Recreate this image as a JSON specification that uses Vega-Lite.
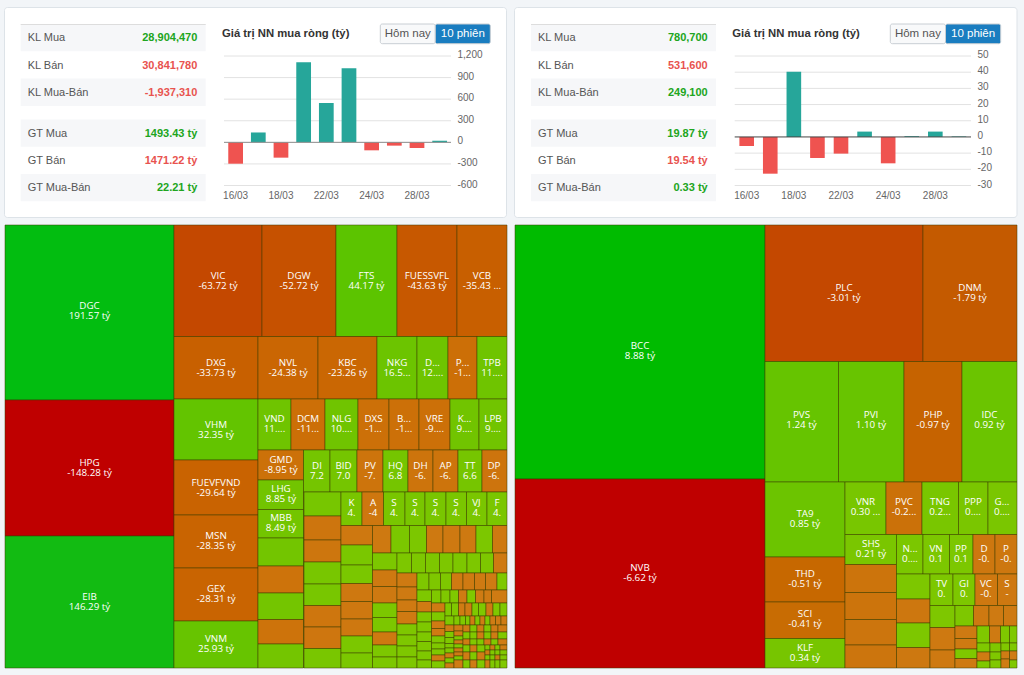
{"$schema":"https://vega.github.io/schema/vega-lite/v6.json","width":1024,"height":675,"autosize":{"type":"fit","contains":"padding"},"padding":0,"background":"#f2f5f8",
"config":{"view":{"stroke":null},"axis":{"labelColor":"#666","labelFontSize":10,"labelFont":"Liberation Sans"},"text":{"font":"Liberation Sans"}},
"resolve":{"scale":{"x":"independent","y":"independent","color":"independent"}},
"datasets":{
"one":[{"k":1}],
"buttons":[{"btn":"Hôm nay"},{"btn":"10 phiên"}],
"statsL":[{"metric":"KL Mua","value":"28,904,470","dir":"pos","shade":true},{"metric":"KL Bán","value":"30,841,780","dir":"neg","shade":false},{"metric":"KL Mua-Bán","value":"-1,937,310","dir":"neg","shade":true},{"metric":"GT Mua","value":"1493.43 tỷ","dir":"pos","shade":true},{"metric":"GT Bán","value":"1471.22 tỷ","dir":"neg","shade":false},{"metric":"GT Mua-Bán","value":"22.21 tỷ","dir":"pos","shade":true}],
"statsR":[{"metric":"KL Mua","value":"780,700","dir":"pos","shade":true},{"metric":"KL Bán","value":"531,600","dir":"neg","shade":false},{"metric":"KL Mua-Bán","value":"249,100","dir":"pos","shade":true},{"metric":"GT Mua","value":"19.87 tỷ","dir":"pos","shade":true},{"metric":"GT Bán","value":"19.54 tỷ","dir":"neg","shade":false},{"metric":"GT Mua-Bán","value":"0.33 tỷ","dir":"pos","shade":true}],
"barsL":[{"date":"16/03","net":-297,"dir":"neg"},{"date":"17/03","net":137,"dir":"pos"},{"date":"18/03","net":-213,"dir":"neg"},{"date":"21/03","net":1112,"dir":"pos"},{"date":"22/03","net":547,"dir":"pos"},{"date":"23/03","net":1029,"dir":"pos"},{"date":"24/03","net":-111,"dir":"neg"},{"date":"25/03","net":-46,"dir":"neg"},{"date":"28/03","net":-79,"dir":"neg"},{"date":"29/03","net":22.21,"dir":"pos"}],
"barsR":[{"date":"16/03","net":-5.6,"dir":"neg"},{"date":"17/03","net":-22.7,"dir":"neg"},{"date":"18/03","net":40.2,"dir":"pos"},{"date":"21/03","net":-13,"dir":"neg"},{"date":"22/03","net":-10.3,"dir":"neg"},{"date":"23/03","net":3.3,"dir":"pos"},{"date":"24/03","net":-16.3,"dir":"neg"},{"date":"25/03","net":0.5,"dir":"pos"},{"date":"28/03","net":3.3,"dir":"pos"},{"date":"29/03","net":0.33,"dir":"pos"}],
"gridL":[{"t":1200},{"t":900},{"t":600},{"t":300},{"t":-300},{"t":-600}],
"gridR":[{"t":50},{"t":40},{"t":30},{"t":20},{"t":10},{"t":-10},{"t":-20},{"t":-30}],
"cellsL":[
{"txt":"DGC\n191.57 tỷ","v":191.57,"x0":5,"x1":174,"y0":225,"y1":400,"cx":89.5,"cy":311},
{"txt":"HPG\n-148.28 tỷ","v":-148.28,"x0":5,"x1":174,"y0":400,"y1":536,"cx":89.5,"cy":468},
{"txt":"EIB\n146.29 tỷ","v":146.29,"x0":5,"x1":174,"y0":536,"y1":668,"cx":89.5,"cy":602},
{"txt":"VIC\n-63.72 tỷ","v":-63.72,"x0":174,"x1":262,"y0":225,"y1":336.5,"cx":218,"cy":280.5},
{"txt":"DGW\n-52.72 tỷ","v":-52.72,"x0":262,"x1":336,"y0":225,"y1":336.5,"cx":299,"cy":280.5},
{"txt":"FTS\n44.17 tỷ","v":44.17,"x0":336,"x1":397,"y0":225,"y1":336.5,"cx":366.5,"cy":280.5},
{"txt":"FUESSVFL\n-43.63 tỷ","v":-43.63,"x0":397,"x1":457,"y0":225,"y1":336.5,"cx":427,"cy":280.5},
{"txt":"VCB\n-35.43 ...","v":-35.43,"x0":457,"x1":507,"y0":225,"y1":336.5,"cx":482,"cy":280.5},
{"txt":"DXG\n-33.73 tỷ","v":-33.73,"x0":174,"x1":258,"y0":336.5,"y1":399,"cx":216,"cy":367.5},
{"txt":"NVL\n-24.38 tỷ","v":-24.38,"x0":258,"x1":318,"y0":336.5,"y1":399,"cx":288,"cy":367.5},
{"txt":"KBC\n-23.26 tỷ","v":-23.26,"x0":318,"x1":377,"y0":336.5,"y1":399,"cx":347.5,"cy":367.5},
{"txt":"NKG\n16.5...","v":16.5,"x0":377,"x1":417,"y0":336.5,"y1":399,"cx":397,"cy":367.5},
{"txt":"D...\n12....","v":12.8,"x0":417,"x1":448,"y0":336.5,"y1":399,"cx":432.5,"cy":367.5},
{"txt":"P...\n-1...","v":-12,"x0":448,"x1":477,"y0":336.5,"y1":399,"cx":462.5,"cy":367.5},
{"txt":"TPB\n11....","v":11.8,"x0":477,"x1":507,"y0":336.5,"y1":399,"cx":492,"cy":367.5},
{"txt":"VHM\n32.35 tỷ","v":32.35,"x0":174,"x1":258,"y0":399,"y1":460,"cx":216,"cy":429.5},
{"txt":"FUEVFVND\n-29.64 tỷ","v":-29.64,"x0":174,"x1":258,"y0":460,"y1":515,"cx":216,"cy":487.5},
{"txt":"MSN\n-28.35 tỷ","v":-28.35,"x0":174,"x1":258,"y0":515,"y1":568,"cx":216,"cy":541},
{"txt":"GEX\n-28.31 tỷ","v":-28.31,"x0":174,"x1":258,"y0":568,"y1":621,"cx":216,"cy":594},
{"txt":"VNM\n25.93 tỷ","v":25.93,"x0":174,"x1":258,"y0":621,"y1":668,"cx":216,"cy":644},
{"txt":"VND\n11....","v":11.5,"x0":258,"x1":291,"y0":399,"y1":450,"cx":274.5,"cy":423.5},
{"txt":"DCM\n-11...","v":-11.2,"x0":291,"x1":325,"y0":399,"y1":450,"cx":308,"cy":423.5},
{"txt":"NLG\n10....","v":10.8,"x0":325,"x1":358,"y0":399,"y1":450,"cx":341.5,"cy":423.5},
{"txt":"DXS\n-1...","v":-10.5,"x0":358,"x1":389,"y0":399,"y1":450,"cx":373.5,"cy":423.5},
{"txt":"B...\n-1...","v":-10.2,"x0":389,"x1":419,"y0":399,"y1":450,"cx":404,"cy":423.5},
{"txt":"VRE\n-9....","v":-9.8,"x0":419,"x1":450,"y0":399,"y1":450,"cx":434.5,"cy":423.5},
{"txt":"K...\n9....","v":9.4,"x0":450,"x1":479,"y0":399,"y1":450,"cx":464.5,"cy":423.5},
{"txt":"LPB\n9....","v":9.2,"x0":479,"x1":507,"y0":399,"y1":450,"cx":493,"cy":423.5},
{"txt":"GMD\n-8.95 tỷ","v":-8.95,"x0":258,"x1":303.5,"y0":450,"y1":480,"cx":281,"cy":464.5},
{"txt":"LHG\n8.85 tỷ","v":8.85,"x0":258,"x1":303.5,"y0":480,"y1":509.5,"cx":281,"cy":494},
{"txt":"MBB\n8.49 tỷ","v":8.49,"x0":258,"x1":303.5,"y0":509.5,"y1":538,"cx":281,"cy":523},
{"v":8.2,"x0":258,"x1":303.5,"y0":538,"y1":566},
{"v":-8,"x0":258,"x1":303.5,"y0":566,"y1":593},
{"v":7.8,"x0":258,"x1":303.5,"y0":593,"y1":619.5},
{"v":-7.6,"x0":258,"x1":303.5,"y0":619.5,"y1":644},
{"v":7.4,"x0":258,"x1":303.5,"y0":644,"y1":668},
{"txt":"DI\n7.2","v":7.2,"x0":303.5,"x1":330,"y0":450,"y1":492,"cx":317,"cy":470.5},
{"txt":"BID\n7.0","v":7,"x0":330,"x1":357,"y0":450,"y1":492,"cx":343.5,"cy":470.5},
{"txt":"PV\n-7.","v":-7,"x0":357,"x1":383,"y0":450,"y1":492,"cx":370,"cy":470.5},
{"txt":"HQ\n6.8","v":6.8,"x0":383,"x1":408,"y0":450,"y1":492,"cx":395.5,"cy":470.5},
{"txt":"DH\n-6.","v":-6.8,"x0":408,"x1":433,"y0":450,"y1":492,"cx":420.5,"cy":470.5},
{"txt":"AP\n-6.","v":-6.7,"x0":433,"x1":458,"y0":450,"y1":492,"cx":445.5,"cy":470.5},
{"txt":"TT\n6.6","v":6.6,"x0":458,"x1":482,"y0":450,"y1":492,"cx":470,"cy":470.5},
{"txt":"DP\n-6.","v":-6.5,"x0":482,"x1":507,"y0":450,"y1":492,"cx":494,"cy":470.5},
{"v":6,"x0":304,"x1":341,"y0":492,"y1":516},
{"v":-5.8,"x0":304,"x1":341,"y0":516,"y1":540},
{"v":-5.6,"x0":304,"x1":341,"y0":540,"y1":562},
{"v":5.5,"x0":304,"x1":341,"y0":562,"y1":584},
{"v":5.4,"x0":304,"x1":341,"y0":584,"y1":605.5},
{"v":-5.2,"x0":304,"x1":341,"y0":605.5,"y1":627},
{"v":-5,"x0":304,"x1":341,"y0":627,"y1":648.5},
{"v":5,"x0":304,"x1":341,"y0":648.5,"y1":668},
{"txt":"K\n4.","v":4.9,"x0":341,"x1":362,"y0":492,"y1":525.5,"cx":351.5,"cy":508},
{"txt":"A\n-4","v":-4.8,"x0":362,"x1":383.5,"y0":492,"y1":525.5,"cx":373,"cy":508},
{"txt":"S\n4.","v":4.7,"x0":383.5,"x1":405,"y0":492,"y1":525.5,"cx":394,"cy":508},
{"txt":"S\n4.","v":4.6,"x0":405,"x1":425,"y0":492,"y1":525.5,"cx":415,"cy":508},
{"txt":"S\n4.","v":4.5,"x0":425,"x1":446,"y0":492,"y1":525.5,"cx":435.5,"cy":508},
{"txt":"S\n4.","v":4.4,"x0":446,"x1":466.5,"y0":492,"y1":525.5,"cx":456,"cy":508},
{"txt":"VJ\n4.","v":4.3,"x0":466.5,"x1":487,"y0":492,"y1":525.5,"cx":476.5,"cy":508},
{"txt":"F\n4.","v":4.2,"x0":487,"x1":507,"y0":492,"y1":525.5,"cx":497,"cy":508},
{"v":-4,"x0":341,"x1":372.5,"y0":525.5,"y1":545},
{"v":4,"x0":341,"x1":372.5,"y0":545,"y1":565},
{"v":3.9,"x0":341,"x1":372.5,"y0":565,"y1":583.5},
{"v":-3.8,"x0":341,"x1":372.5,"y0":583.5,"y1":601.5},
{"v":-3.7,"x0":341,"x1":372.5,"y0":601.5,"y1":619},
{"v":-3.6,"x0":341,"x1":372.5,"y0":619,"y1":636},
{"v":3.5,"x0":341,"x1":372.5,"y0":636,"y1":653},
{"v":3.4,"x0":341,"x1":372.5,"y0":653,"y1":668},
{"v":-3.3,"x0":372.5,"x1":391,"y0":525.5,"y1":553},
{"v":3.3,"x0":391,"x1":409.5,"y0":525.5,"y1":553},
{"v":3.2,"x0":409.5,"x1":426.5,"y0":525.5,"y1":553},
{"v":-3.2,"x0":426.5,"x1":443,"y0":525.5,"y1":553},
{"v":-3.1,"x0":443,"x1":460,"y0":525.5,"y1":553},
{"v":-3.1,"x0":460,"x1":476,"y0":525.5,"y1":553},
{"v":3,"x0":476,"x1":492.5,"y0":525.5,"y1":553},
{"v":-3,"x0":492.5,"x1":507,"y0":525.5,"y1":553},
{"v":3,"x0":372.5,"x1":397,"y0":553,"y1":570},
{"v":-2.9,"x0":372.5,"x1":397,"y0":570,"y1":586.5},
{"v":-2.9,"x0":372.5,"x1":397,"y0":586.5,"y1":603},
{"v":2.8,"x0":372.5,"x1":397,"y0":603,"y1":617.5},
{"v":2.7,"x0":372.5,"x1":397,"y0":617.5,"y1":632},
{"v":-2.6,"x0":372.5,"x1":397,"y0":632,"y1":645},
{"v":2.5,"x0":372.5,"x1":397,"y0":645,"y1":657},
{"v":2.5,"x0":372.5,"x1":397,"y0":657,"y1":668},
{"v":2.5,"x0":397,"x1":411.5,"y0":553,"y1":573},
{"v":2.4,"x0":411.5,"x1":425.5,"y0":553,"y1":573},
{"v":2.4,"x0":425.5,"x1":439.5,"y0":553,"y1":573},
{"v":2.4,"x0":439.5,"x1":453,"y0":553,"y1":573},
{"v":2.3,"x0":453,"x1":467,"y0":553,"y1":573},
{"v":2.3,"x0":467,"x1":480.5,"y0":553,"y1":573},
{"v":2.3,"x0":480.5,"x1":493.5,"y0":553,"y1":573},
{"v":-2.3,"x0":493.5,"x1":507,"y0":553,"y1":573},
{"v":-2.2,"x0":397,"x1":417,"y0":573,"y1":587},
{"v":-2.2,"x0":397,"x1":417,"y0":587,"y1":600},
{"v":-2.1,"x0":397,"x1":417,"y0":600,"y1":611.5},
{"v":-2.1,"x0":397,"x1":417,"y0":611.5,"y1":624},
{"v":2,"x0":397,"x1":417,"y0":624,"y1":635},
{"v":2,"x0":397,"x1":417,"y0":635,"y1":646},
{"v":2,"x0":397,"x1":417,"y0":646,"y1":657},
{"v":1.9,"x0":397,"x1":417,"y0":657,"y1":668},
{"v":1.9,"x0":417,"x1":429,"y0":573,"y1":590},
{"v":1.9,"x0":429,"x1":440.5,"y0":573,"y1":590},
{"v":1.8,"x0":440.5,"x1":451.5,"y0":573,"y1":590},
{"v":-1.8,"x0":451.5,"x1":463,"y0":573,"y1":590},
{"v":-1.8,"x0":463,"x1":474.5,"y0":573,"y1":590},
{"v":-1.8,"x0":474.5,"x1":485.5,"y0":573,"y1":590},
{"v":-1.7,"x0":485.5,"x1":497,"y0":573,"y1":590},
{"v":1.7,"x0":497,"x1":507,"y0":573,"y1":590},
{"v":1.7,"x0":417,"x1":431.5,"y0":590,"y1":601.5},
{"v":-1.7,"x0":417,"x1":431.5,"y0":601.5,"y1":612},
{"v":1.6,"x0":417,"x1":431.5,"y0":612,"y1":622},
{"v":1.6,"x0":417,"x1":431.5,"y0":622,"y1":632},
{"v":1.6,"x0":417,"x1":431.5,"y0":632,"y1":641.5},
{"v":1.5,"x0":417,"x1":431.5,"y0":641.5,"y1":651},
{"v":1.5,"x0":417,"x1":431.5,"y0":651,"y1":660},
{"v":1.5,"x0":417,"x1":431.5,"y0":660,"y1":668},
{"v":1.4,"x0":431.5,"x1":441,"y0":590,"y1":603},
{"v":1.4,"x0":441,"x1":450,"y0":590,"y1":603},
{"v":1.4,"x0":450,"x1":458.5,"y0":590,"y1":603},
{"v":-1.4,"x0":458.5,"x1":467,"y0":590,"y1":603},
{"v":1.3,"x0":467,"x1":475.5,"y0":590,"y1":603},
{"v":-1.3,"x0":475.5,"x1":484,"y0":590,"y1":603},
{"v":-1.3,"x0":484,"x1":491.5,"y0":590,"y1":603},
{"v":-1.3,"x0":491.5,"x1":507,"y0":590,"y1":603},
{"v":-1.2,"x0":431.5,"x1":445,"y0":603,"y1":612},
{"v":1.2,"x0":431.5,"x1":445,"y0":612,"y1":621},
{"v":-1.2,"x0":431.5,"x1":445,"y0":621,"y1":628.5},
{"v":-1.2,"x0":431.5,"x1":445,"y0":628.5,"y1":636},
{"v":1.1,"x0":431.5,"x1":445,"y0":636,"y1":643},
{"v":1.1,"x0":431.5,"x1":445,"y0":643,"y1":649},
{"v":1.1,"x0":431.5,"x1":445,"y0":649,"y1":655},
{"v":-1.1,"x0":431.5,"x1":445,"y0":655,"y1":661},
{"v":1,"x0":431.5,"x1":445,"y0":661,"y1":668},
{"v":1,"x0":445,"x1":451.5,"y0":603,"y1":616},
{"v":1,"x0":451.5,"x1":458.5,"y0":603,"y1":616},
{"v":-1,"x0":458.5,"x1":465,"y0":603,"y1":616},
{"v":-1,"x0":465,"x1":472,"y0":603,"y1":616},
{"v":1,"x0":472,"x1":478.5,"y0":603,"y1":616},
{"v":1,"x0":478.5,"x1":486,"y0":603,"y1":616},
{"v":-1,"x0":486,"x1":493,"y0":603,"y1":616},
{"v":1,"x0":493,"x1":500,"y0":603,"y1":616},
{"v":1,"x0":500,"x1":507,"y0":603,"y1":616},
{"v":0.9,"x0":445,"x1":454,"y0":616,"y1":625},
{"v":-0.9,"x0":445,"x1":454,"y0":625,"y1":631.5},
{"v":0.9,"x0":445,"x1":454,"y0":631.5,"y1":637.5},
{"v":0.9,"x0":445,"x1":454,"y0":637.5,"y1":643.5},
{"v":0.9,"x0":445,"x1":454,"y0":643.5,"y1":648},
{"v":0.9,"x0":445,"x1":454,"y0":648,"y1":653},
{"v":-0.9,"x0":445,"x1":454,"y0":653,"y1":658},
{"v":0.9,"x0":445,"x1":454,"y0":658,"y1":663},
{"v":-0.9,"x0":445,"x1":454,"y0":663,"y1":668},
{"v":0.8,"x0":454,"x1":460,"y0":616,"y1":625},
{"v":0.8,"x0":460,"x1":465.5,"y0":616,"y1":625},
{"v":0.8,"x0":465.5,"x1":470,"y0":616,"y1":625},
{"v":-0.8,"x0":470,"x1":475,"y0":616,"y1":625},
{"v":0.8,"x0":475,"x1":480,"y0":616,"y1":625},
{"v":-0.8,"x0":480,"x1":485,"y0":616,"y1":625},
{"v":0.8,"x0":485,"x1":490,"y0":616,"y1":625},
{"v":-0.8,"x0":490,"x1":495.5,"y0":616,"y1":625},
{"v":-0.8,"x0":495.5,"x1":501,"y0":616,"y1":625},
{"v":-0.8,"x0":501,"x1":507,"y0":616,"y1":625},
{"v":-0.7,"x0":454,"x1":463,"y0":625,"y1":631},
{"v":-0.7,"x0":454,"x1":463,"y0":631,"y1":636},
{"v":0.7,"x0":454,"x1":463,"y0":636,"y1":640},
{"v":-0.7,"x0":454,"x1":463,"y0":640,"y1":644},
{"v":0.7,"x0":454,"x1":463,"y0":644,"y1":648},
{"v":-0.7,"x0":454,"x1":463,"y0":648,"y1":652},
{"v":-0.7,"x0":454,"x1":463,"y0":652,"y1":656},
{"v":0.7,"x0":454,"x1":463,"y0":656,"y1":660},
{"v":-0.7,"x0":454,"x1":463,"y0":660,"y1":668},
{"v":-0.6,"x0":463,"x1":470,"y0":625,"y1":632},
{"v":0.6,"x0":470,"x1":477,"y0":625,"y1":632},
{"v":-0.6,"x0":477,"x1":484,"y0":625,"y1":632},
{"v":0.6,"x0":484,"x1":491,"y0":625,"y1":632},
{"v":-0.6,"x0":491,"x1":498,"y0":625,"y1":632},
{"v":-0.6,"x0":498,"x1":507,"y0":625,"y1":632},
{"v":0.6,"x0":463,"x1":470,"y0":632,"y1":639},
{"v":0.6,"x0":470,"x1":477,"y0":632,"y1":639},
{"v":-0.6,"x0":477,"x1":484,"y0":632,"y1":639},
{"v":0.6,"x0":484,"x1":491,"y0":632,"y1":639},
{"v":-0.6,"x0":491,"x1":498,"y0":632,"y1":639},
{"v":0.6,"x0":498,"x1":507,"y0":632,"y1":639},
{"v":-0.5,"x0":463,"x1":470,"y0":639,"y1":645},
{"v":0.5,"x0":470,"x1":477,"y0":639,"y1":645},
{"v":0.5,"x0":477,"x1":484,"y0":639,"y1":645},
{"v":-0.5,"x0":484,"x1":491,"y0":639,"y1":645},
{"v":0.5,"x0":491,"x1":498,"y0":639,"y1":645},
{"v":-0.5,"x0":498,"x1":507,"y0":639,"y1":645},
{"v":0.5,"x0":463,"x1":470,"y0":645,"y1":652},
{"v":-0.5,"x0":470,"x1":477,"y0":645,"y1":652},
{"v":0.5,"x0":477,"x1":485,"y0":645,"y1":652},
{"v":-0.5,"x0":463,"x1":470,"y0":652,"y1":660},
{"v":0.5,"x0":470,"x1":477,"y0":652,"y1":660},
{"v":-0.5,"x0":477,"x1":485,"y0":652,"y1":660},
{"v":0.5,"x0":463,"x1":470,"y0":660,"y1":668},
{"v":-0.5,"x0":470,"x1":477,"y0":660,"y1":668},
{"v":0.5,"x0":477,"x1":485,"y0":660,"y1":668},
{"v":0.5,"x0":485,"x1":490,"y0":645,"y1":650},
{"v":-0.5,"x0":490,"x1":495,"y0":645,"y1":650},
{"v":0.5,"x0":495,"x1":500,"y0":645,"y1":650},
{"v":-0.5,"x0":500,"x1":507,"y0":645,"y1":650},
{"v":-0.5,"x0":485,"x1":490,"y0":650,"y1":655},
{"v":0.5,"x0":490,"x1":495,"y0":650,"y1":655},
{"v":0.5,"x0":495,"x1":500,"y0":650,"y1":655},
{"v":0.5,"x0":500,"x1":507,"y0":650,"y1":655},
{"v":0.5,"x0":485,"x1":490,"y0":655,"y1":660},
{"v":0.5,"x0":490,"x1":495,"y0":655,"y1":660},
{"v":-0.5,"x0":495,"x1":500,"y0":655,"y1":660},
{"v":0.5,"x0":500,"x1":507,"y0":655,"y1":660},
{"v":-0.5,"x0":485,"x1":490,"y0":660,"y1":668},
{"v":0.5,"x0":490,"x1":495,"y0":660,"y1":668},
{"v":0.5,"x0":495,"x1":500,"y0":660,"y1":668},
{"v":0.5,"x0":500,"x1":507,"y0":660,"y1":668}
],
"cellsR":[
{"txt":"BCC\n8.88 tỷ","v":8.88,"x0":515,"x1":765,"y0":225,"y1":479,"cx":640,"cy":351},
{"txt":"NVB\n-6.62 tỷ","v":-6.62,"x0":515,"x1":765,"y0":479,"y1":668,"cx":640,"cy":573},
{"txt":"PLC\n-3.01 tỷ","v":-3.01,"x0":765,"x1":923,"y0":225,"y1":361.5,"cx":844,"cy":292.5},
{"txt":"DNM\n-1.79 tỷ","v":-1.79,"x0":923,"x1":1017,"y0":225,"y1":361.5,"cx":970,"cy":292.5},
{"txt":"PVS\n1.24 tỷ","v":1.24,"x0":765,"x1":838.5,"y0":361.5,"y1":482,"cx":801.5,"cy":420},
{"txt":"PVI\n1.10 tỷ","v":1.1,"x0":838.5,"x1":904,"y0":361.5,"y1":482,"cx":871,"cy":420},
{"txt":"PHP\n-0.97 tỷ","v":-0.97,"x0":904,"x1":962,"y0":361.5,"y1":482,"cx":933,"cy":420},
{"txt":"IDC\n0.92 tỷ","v":0.92,"x0":962,"x1":1017,"y0":361.5,"y1":482,"cx":989.5,"cy":420},
{"txt":"TA9\n0.85 tỷ","v":0.85,"x0":765,"x1":845,"y0":482,"y1":557,"cx":805,"cy":519},
{"txt":"THD\n-0.51 tỷ","v":-0.51,"x0":765,"x1":845,"y0":557,"y1":602,"cx":805,"cy":579},
{"txt":"SCI\n-0.41 tỷ","v":-0.41,"x0":765,"x1":845,"y0":602,"y1":638.5,"cx":805,"cy":619},
{"txt":"KLF\n0.34 tỷ","v":0.34,"x0":765,"x1":845,"y0":638.5,"y1":668,"cx":805,"cy":653},
{"txt":"VNR\n0.30 ...","v":0.3,"x0":845,"x1":886,"y0":482,"y1":534.5,"cx":865.5,"cy":507},
{"txt":"PVC\n-0.2...","v":-0.28,"x0":886,"x1":922,"y0":482,"y1":534.5,"cx":904,"cy":507},
{"txt":"TNG\n0.2...","v":0.27,"x0":922,"x1":958.5,"y0":482,"y1":534.5,"cx":940,"cy":507},
{"txt":"PPP\n0....","v":0.24,"x0":958.5,"x1":988,"y0":482,"y1":534.5,"cx":973,"cy":507},
{"txt":"G...\n0....","v":0.23,"x0":988,"x1":1017,"y0":482,"y1":534.5,"cx":1002,"cy":507},
{"txt":"SHS\n0.21 tỷ","v":0.21,"x0":845,"x1":896.5,"y0":534.5,"y1":564.5,"cx":871,"cy":549},
{"v":-0.2,"x0":845,"x1":896.5,"y0":564.5,"y1":592.5},
{"v":-0.2,"x0":845,"x1":896.5,"y0":592.5,"y1":619.5},
{"v":-0.19,"x0":845,"x1":896.5,"y0":619.5,"y1":645},
{"v":-0.18,"x0":845,"x1":896.5,"y0":645,"y1":668},
{"txt":"N...\n0....","v":0.17,"x0":896.5,"x1":923,"y0":534.5,"y1":574,"cx":910,"cy":554},
{"txt":"VN\n0.1","v":0.16,"x0":923,"x1":949.5,"y0":534.5,"y1":574,"cx":936,"cy":554},
{"txt":"PP\n0.1","v":0.15,"x0":949.5,"x1":973,"y0":534.5,"y1":574,"cx":961,"cy":554},
{"txt":"D\n-0.","v":-0.14,"x0":973,"x1":995,"y0":534.5,"y1":574,"cx":984,"cy":554},
{"txt":"P\n-0.","v":-0.14,"x0":995,"x1":1017,"y0":534.5,"y1":574,"cx":1006,"cy":554},
{"v":0.13,"x0":896.5,"x1":930,"y0":574,"y1":599},
{"v":-0.13,"x0":896.5,"x1":930,"y0":599,"y1":623},
{"v":0.12,"x0":896.5,"x1":930,"y0":623,"y1":647.5},
{"v":-0.12,"x0":896.5,"x1":930,"y0":647.5,"y1":668},
{"txt":"TV\n0.","v":0.11,"x0":930,"x1":953,"y0":574,"y1":605.5,"cx":941.5,"cy":589},
{"txt":"GI\n0.","v":0.1,"x0":953,"x1":975,"y0":574,"y1":605.5,"cx":964,"cy":589},
{"txt":"VC\n-0.","v":-0.1,"x0":975,"x1":997.5,"y0":574,"y1":605.5,"cx":986,"cy":589},
{"txt":"S\n-","v":-0.1,"x0":997.5,"x1":1017,"y0":574,"y1":605.5,"cx":1007,"cy":589},
{"v":0.09,"x0":930,"x1":955,"y0":605.5,"y1":627.5},
{"v":-0.09,"x0":930,"x1":955,"y0":627.5,"y1":650},
{"v":-0.08,"x0":930,"x1":955,"y0":650,"y1":668},
{"v":0.08,"x0":955,"x1":973.5,"y0":605.5,"y1":626},
{"v":-0.08,"x0":973.5,"x1":989,"y0":605.5,"y1":626},
{"v":-0.07,"x0":989,"x1":1003.5,"y0":605.5,"y1":626},
{"v":-0.07,"x0":1003.5,"x1":1017,"y0":605.5,"y1":626},
{"v":-0.06,"x0":955,"x1":977,"y0":626,"y1":638.5},
{"v":-0.06,"x0":955,"x1":977,"y0":638.5,"y1":649},
{"v":0.06,"x0":955,"x1":977,"y0":649,"y1":658.5},
{"v":-0.05,"x0":955,"x1":977,"y0":658.5,"y1":668},
{"v":0.05,"x0":977,"x1":989.5,"y0":626,"y1":643},
{"v":-0.05,"x0":989.5,"x1":1000.5,"y0":626,"y1":643},
{"v":0.04,"x0":1000.5,"x1":1009.5,"y0":626,"y1":643},
{"v":0.04,"x0":1009.5,"x1":1017,"y0":626,"y1":643},
{"v":0.04,"x0":977,"x1":990,"y0":643,"y1":652},
{"v":-0.04,"x0":977,"x1":990,"y0":652,"y1":661},
{"v":0.03,"x0":977,"x1":990,"y0":661,"y1":668},
{"v":0.03,"x0":990,"x1":1001,"y0":643,"y1":652},
{"v":0.03,"x0":990,"x1":1001,"y0":652,"y1":660},
{"v":0.02,"x0":990,"x1":1001,"y0":660,"y1":668},
{"v":0.02,"x0":1001,"x1":1009.5,"y0":643,"y1":651},
{"v":-0.02,"x0":1001,"x1":1009.5,"y0":651,"y1":659},
{"v":-0.02,"x0":1001,"x1":1009.5,"y0":659,"y1":668},
{"v":0.02,"x0":1009.5,"x1":1017,"y0":643,"y1":651},
{"v":-0.02,"x0":1009.5,"x1":1017,"y0":651,"y1":660},
{"v":0.01,"x0":1009.5,"x1":1017,"y0":660,"y1":668}
]},
"layer":[
{"data":{"name":"one"},"mark":{"type":"rect","fill":"#ffffff","stroke":"#dde3e8","cornerRadius":3},"encoding":{"x":{"datum":0,"type":"quantitative","axis":null,"scale":{"domain":[0,1],"range":[4.5,506.5]}},"x2":{"datum":1},"y":{"datum":0,"type":"quantitative","axis":null,"scale":{"domain":[0,1],"range":[7.5,217.5]}},"y2":{"datum":1}}},
{"data":{"name":"one"},"mark":{"type":"rect","fill":"#ffffff","stroke":"#dde3e8","cornerRadius":3},"encoding":{"x":{"datum":0,"type":"quantitative","axis":null,"scale":{"domain":[0,1],"range":[514.5,1017]}},"x2":{"datum":1},"y":{"datum":0,"type":"quantitative","axis":null,"scale":{"domain":[0,1],"range":[7.5,217.5]}},"y2":{"datum":1}}},

{"data":{"name":"statsL"},"transform":[{"filter":"datum.shade"}],"mark":{"type":"rule","stroke":"#f6f7f9","strokeWidth":27.3},"encoding":{"x":{"datum":0,"type":"quantitative","axis":null,"scale":{"domain":[0,1],"range":[20.7,205.7]}},"x2":{"datum":1},"y":{"field":"metric","type":"nominal","axis":null,"scale":{"type":"point","padding":0,"domain":["KL Mua","g1","KL Bán","g2","KL Mua-Bán","g3","g4","GT Mua","g5","GT Bán","g6","GT Mua-Bán"],"range":[37.7,187.7]}}}},
{"data":{"name":"statsR"},"transform":[{"filter":"datum.shade"}],"mark":{"type":"rule","stroke":"#f6f7f9","strokeWidth":27.3},"encoding":{"x":{"datum":0,"type":"quantitative","axis":null,"scale":{"domain":[0,1],"range":[531,716]}},"x2":{"datum":1},"y":{"field":"metric","type":"nominal","axis":null,"scale":{"type":"point","padding":0,"domain":["KL Mua","g1","KL Bán","g2","KL Mua-Bán","g3","g4","GT Mua","g5","GT Bán","g6","GT Mua-Bán"],"range":[37.7,187.7]}}}},
{"data":{"name":"one"},"mark":{"type":"rule","stroke":"#dddddd"},"encoding":{"x":{"datum":0,"type":"quantitative","axis":null,"scale":{"domain":[0,1],"range":[20.7,205.7]}},"x2":{"datum":1},"y":{"datum":0,"type":"quantitative","axis":null,"scale":{"domain":[0,1],"range":[24.5,60]}}}},
{"data":{"name":"one"},"mark":{"type":"rule","stroke":"#dddddd"},"encoding":{"x":{"datum":0,"type":"quantitative","axis":null,"scale":{"domain":[0,1],"range":[531,716]}},"x2":{"datum":1},"y":{"datum":0,"type":"quantitative","axis":null,"scale":{"domain":[0,1],"range":[24.5,60]}}}},

{"data":{"name":"statsL"},"mark":{"type":"text","align":"left","baseline":"middle","dy":0.6,"fontSize":11,"color":"#555555"},"encoding":{"text":{"field":"metric"},"x":{"datum":0,"type":"quantitative","axis":null,"scale":{"domain":[0,1],"range":[27.7,197.3]}},"y":{"field":"metric","type":"nominal","axis":null,"scale":{"type":"point","padding":0,"domain":["KL Mua","g1","KL Bán","g2","KL Mua-Bán","g3","g4","GT Mua","g5","GT Bán","g6","GT Mua-Bán"],"range":[37.7,187.7]}}}},
{"data":{"name":"statsL"},"mark":{"type":"text","align":"right","baseline":"middle","dy":0.6,"fontSize":11,"fontWeight":"bold"},"encoding":{"text":{"field":"value"},"x":{"datum":1,"type":"quantitative","axis":null,"scale":{"domain":[0,1],"range":[27.7,197.3]}},"y":{"field":"metric","type":"nominal","axis":null,"scale":{"type":"point","padding":0,"domain":["KL Mua","g1","KL Bán","g2","KL Mua-Bán","g3","g4","GT Mua","g5","GT Bán","g6","GT Mua-Bán"],"range":[37.7,187.7]}},"color":{"field":"dir","type":"nominal","scale":{"domain":["pos","neg"],"range":["#20a520","#e8534f"]},"legend":null}}},
{"data":{"name":"statsR"},"mark":{"type":"text","align":"left","baseline":"middle","dy":0.6,"fontSize":11,"color":"#555555"},"encoding":{"text":{"field":"metric"},"x":{"datum":0,"type":"quantitative","axis":null,"scale":{"domain":[0,1],"range":[538,707.7]}},"y":{"field":"metric","type":"nominal","axis":null,"scale":{"type":"point","padding":0,"domain":["KL Mua","g1","KL Bán","g2","KL Mua-Bán","g3","g4","GT Mua","g5","GT Bán","g6","GT Mua-Bán"],"range":[37.7,187.7]}}}},
{"data":{"name":"statsR"},"mark":{"type":"text","align":"right","baseline":"middle","dy":0.6,"fontSize":11,"fontWeight":"bold"},"encoding":{"text":{"field":"value"},"x":{"datum":1,"type":"quantitative","axis":null,"scale":{"domain":[0,1],"range":[538,707.7]}},"y":{"field":"metric","type":"nominal","axis":null,"scale":{"type":"point","padding":0,"domain":["KL Mua","g1","KL Bán","g2","KL Mua-Bán","g3","g4","GT Mua","g5","GT Bán","g6","GT Mua-Bán"],"range":[37.7,187.7]}},"color":{"field":"dir","type":"nominal","scale":{"domain":["pos","neg"],"range":["#20a520","#e8534f"]},"legend":null}}},

{"data":{"name":"one"},"mark":{"type":"text","align":"left","baseline":"middle","fontSize":11.3,"fontWeight":"bold","color":"#333333"},"encoding":{"text":{"value":"Giá trị NN mua ròng (tỷ)"},"x":{"datum":0,"type":"quantitative","axis":null,"scale":{"domain":[0,1],"range":[222,400]}},"y":{"datum":0,"type":"quantitative","axis":null,"scale":{"domain":[0,1],"range":[34,60]}}}},
{"data":{"name":"one"},"mark":{"type":"text","align":"left","baseline":"middle","fontSize":11.3,"fontWeight":"bold","color":"#333333"},"encoding":{"text":{"value":"Giá trị NN mua ròng (tỷ)"},"x":{"datum":0,"type":"quantitative","axis":null,"scale":{"domain":[0,1],"range":[732.3,900]}},"y":{"datum":0,"type":"quantitative","axis":null,"scale":{"domain":[0,1],"range":[34,60]}}}},

{"data":{"name":"buttons"},"mark":{"type":"rect","stroke":"#c8ced3","cornerRadius":2},"encoding":{"x":{"field":"btn","type":"nominal","axis":null,"scale":{"domain":["Hôm nay","10 phiên"],"range":[380.3,490.3],"paddingInner":0,"paddingOuter":0}},"y":{"datum":0,"type":"quantitative","axis":null,"scale":{"domain":[0,1],"range":[24,43.7]}},"y2":{"datum":1},"color":{"field":"btn","type":"nominal","scale":{"domain":["Hôm nay","10 phiên"],"range":["#f8f9fa","#1a7dc0"]},"legend":null}}},
{"data":{"name":"buttons"},"mark":{"type":"text","baseline":"middle","fontSize":11.5},"encoding":{"text":{"field":"btn"},"x":{"field":"btn","type":"nominal","axis":null,"scale":{"domain":["Hôm nay","10 phiên"],"range":[380.3,490.3],"paddingInner":0,"paddingOuter":0}},"y":{"datum":0,"type":"quantitative","axis":null,"scale":{"domain":[0,1],"range":[34,60]}},"color":{"field":"btn","type":"nominal","scale":{"domain":["Hôm nay","10 phiên"],"range":["#555555","#ffffff"]},"legend":null}}},
{"data":{"name":"buttons"},"mark":{"type":"rect","stroke":"#c8ced3","cornerRadius":2},"encoding":{"x":{"field":"btn","type":"nominal","axis":null,"scale":{"domain":["Hôm nay","10 phiên"],"range":[890.3,1000.7],"paddingInner":0,"paddingOuter":0}},"y":{"datum":0,"type":"quantitative","axis":null,"scale":{"domain":[0,1],"range":[24,43.7]}},"y2":{"datum":1},"color":{"field":"btn","type":"nominal","scale":{"domain":["Hôm nay","10 phiên"],"range":["#f8f9fa","#1a7dc0"]},"legend":null}}},
{"data":{"name":"buttons"},"mark":{"type":"text","baseline":"middle","fontSize":11.5},"encoding":{"text":{"field":"btn"},"x":{"field":"btn","type":"nominal","axis":null,"scale":{"domain":["Hôm nay","10 phiên"],"range":[890.3,1000.7],"paddingInner":0,"paddingOuter":0}},"y":{"datum":0,"type":"quantitative","axis":null,"scale":{"domain":[0,1],"range":[34,60]}},"color":{"field":"btn","type":"nominal","scale":{"domain":["Hôm nay","10 phiên"],"range":["#555555","#ffffff"]},"legend":null}}},

{"data":{"name":"gridL"},"mark":{"type":"rule","stroke":"#e2e2e2","strokeWidth":1},"encoding":{"x":{"datum":0,"type":"quantitative","axis":null,"scale":{"domain":[0,1],"range":[224,451]}},"x2":{"datum":1},"y":{"field":"t","type":"quantitative","axis":null,"scale":{"domain":[-600,1200],"range":[185.5,56],"nice":false}}}},
{"data":{"name":"gridR"},"mark":{"type":"rule","stroke":"#e2e2e2","strokeWidth":1},"encoding":{"x":{"datum":0,"type":"quantitative","axis":null,"scale":{"domain":[0,1],"range":[734.7,971]}},"x2":{"datum":1},"y":{"field":"t","type":"quantitative","axis":null,"scale":{"domain":[-30,50],"range":[185.5,56],"nice":false}}}},

{"data":{"name":"barsL"},"mark":{"type":"bar"},"encoding":{"x":{"field":"date","type":"ordinal","sort":null,"scale":{"range":[224.3,451],"paddingInner":0.35,"paddingOuter":0.175},"axis":{"zindex":1,"orient":"bottom","offset":-487,"values":["16/03","18/03","22/03","24/03","28/03"],"labelAngle":0,"domain":false,"ticks":false,"grid":false,"title":null,"labelPadding":2}},"y":{"field":"net","type":"quantitative","scale":{"domain":[-600,1200],"range":[185.5,56],"nice":false},"axis":{"zindex":1,"orient":"right","offset":-569,"values":[1200,900,600,300,0,-300,-600],"format":",.0f","labelExpr":"replace(datum.label,'−','-')","labelOffset":-1.5,"domain":false,"ticks":false,"grid":false,"title":null,"labelPadding":2}},"color":{"field":"dir","type":"nominal","scale":{"domain":["pos","neg"],"range":["#26a69a","#ef5350"]},"legend":null}}},
{"data":{"name":"barsR"},"mark":{"type":"bar"},"encoding":{"x":{"field":"date","type":"ordinal","sort":null,"scale":{"range":[734.9,970.7],"paddingInner":0.38,"paddingOuter":0.19},"axis":{"zindex":1,"orient":"bottom","offset":-487,"values":["16/03","18/03","22/03","24/03","28/03"],"labelAngle":0,"domain":false,"ticks":false,"grid":false,"title":null,"labelPadding":2}},"y":{"field":"net","type":"quantitative","scale":{"domain":[-30,50],"range":[185.5,56],"nice":false},"axis":{"zindex":1,"orient":"right","offset":-49,"values":[50,40,30,20,10,0,-10,-20,-30],"labelExpr":"replace(datum.label,'−','-')","labelOffset":-1.5,"domain":false,"ticks":false,"grid":false,"title":null,"labelPadding":2}},"color":{"field":"dir","type":"nominal","scale":{"domain":["pos","neg"],"range":["#26a69a","#ef5350"]},"legend":null}}},
{"data":{"name":"one"},"mark":{"type":"rule","stroke":"#8a8a8a","strokeWidth":1},"encoding":{"x":{"datum":0,"type":"quantitative","axis":null,"scale":{"domain":[0,1],"range":[224,451]}},"x2":{"datum":1},"y":{"datum":0,"type":"quantitative","axis":null,"scale":{"domain":[-600,1200],"range":[185.5,56],"nice":false}}}},
{"data":{"name":"one"},"mark":{"type":"rule","stroke":"#444444","strokeWidth":1},"encoding":{"x":{"datum":0,"type":"quantitative","axis":null,"scale":{"domain":[0,1],"range":[734.7,971]}},"x2":{"datum":1},"y":{"datum":0,"type":"quantitative","axis":null,"scale":{"domain":[-30,50],"range":[185.5,56],"nice":false}}}},

{"data":{"name":"one"},"mark":{"type":"rect","fill":"#6a7a10","cornerRadius":2},"encoding":{"x":{"datum":0,"type":"quantitative","axis":null,"scale":{"domain":[0,1],"range":[5,507]}},"x2":{"datum":1},"y":{"datum":0,"type":"quantitative","axis":null,"scale":{"domain":[0,1],"range":[225,668]}},"y2":{"datum":1}}},
{"data":{"name":"one"},"mark":{"type":"rect","fill":"#6a7a10","cornerRadius":2},"encoding":{"x":{"datum":0,"type":"quantitative","axis":null,"scale":{"domain":[0,1],"range":[515,1017]}},"x2":{"datum":1},"y":{"datum":0,"type":"quantitative","axis":null,"scale":{"domain":[0,1],"range":[225,668]}},"y2":{"datum":1}}},
{"data":{"name":"cellsL"},"mark":{"type":"rect","stroke":"#3c3c00","strokeOpacity":0.5,"strokeWidth":1},"encoding":{"x":{"field":"x0","type":"quantitative","axis":null,"scale":{"domain":[5,507],"range":[5,507],"nice":false,"zero":false}},"x2":{"field":"x1"},"y":{"field":"y0","type":"quantitative","axis":null,"scale":{"domain":[225,668],"range":[225,668],"nice":false,"zero":false}},"y2":{"field":"y1"},"color":{"field":"v","type":"quantitative","scale":{"type":"linear","domain":[-148.28,-63.72,-35,-10,-0.5,0.5,10,44,146,191.57],"range":["#bf0000","#c44800","#c85f00","#cc7008","#cf7c14","#80c800","#70c400","#5cc400","#12bb12","#02bd10"]},"legend":null}}},
{"data":{"name":"cellsR"},"mark":{"type":"rect","stroke":"#3c3c00","strokeOpacity":0.5,"strokeWidth":1},"encoding":{"x":{"field":"x0","type":"quantitative","axis":null,"scale":{"domain":[515,1017],"range":[515,1017],"nice":false,"zero":false}},"x2":{"field":"x1"},"y":{"field":"y0","type":"quantitative","axis":null,"scale":{"domain":[225,668],"range":[225,668],"nice":false,"zero":false}},"y2":{"field":"y1"},"color":{"field":"v","type":"quantitative","scale":{"type":"linear","domain":[-6.62,-3.01,-1.79,-0.5,-0.01,0.01,0.5,1.24,8.88],"range":["#bf0000","#c44800","#c45a00","#c76800","#cf7c14","#80c800","#72c400","#66c400","#00bb00"]},"legend":null}}},
{"data":{"name":"cellsL"},"transform":[{"filter":"datum.txt"}],"mark":{"type":"text","color":"#ffffff","fontSize":9.8,"font":"Open Sans","lineBreak":"\n","lineHeight":10,"baseline":"middle","align":"center","dy":-5},"encoding":{"text":{"field":"txt"},"x":{"field":"cx","type":"quantitative","axis":null,"scale":{"domain":[5,507],"range":[5,507],"nice":false,"zero":false}},"y":{"field":"cy","type":"quantitative","axis":null,"scale":{"domain":[225,668],"range":[225,668],"nice":false,"zero":false}}}},
{"data":{"name":"cellsR"},"transform":[{"filter":"datum.txt"}],"mark":{"type":"text","color":"#ffffff","fontSize":9.8,"font":"Open Sans","lineBreak":"\n","lineHeight":10,"baseline":"middle","align":"center","dy":-5},"encoding":{"text":{"field":"txt"},"x":{"field":"cx","type":"quantitative","axis":null,"scale":{"domain":[515,1017],"range":[515,1017],"nice":false,"zero":false}},"y":{"field":"cy","type":"quantitative","axis":null,"scale":{"domain":[225,668],"range":[225,668],"nice":false,"zero":false}}}}
]}
